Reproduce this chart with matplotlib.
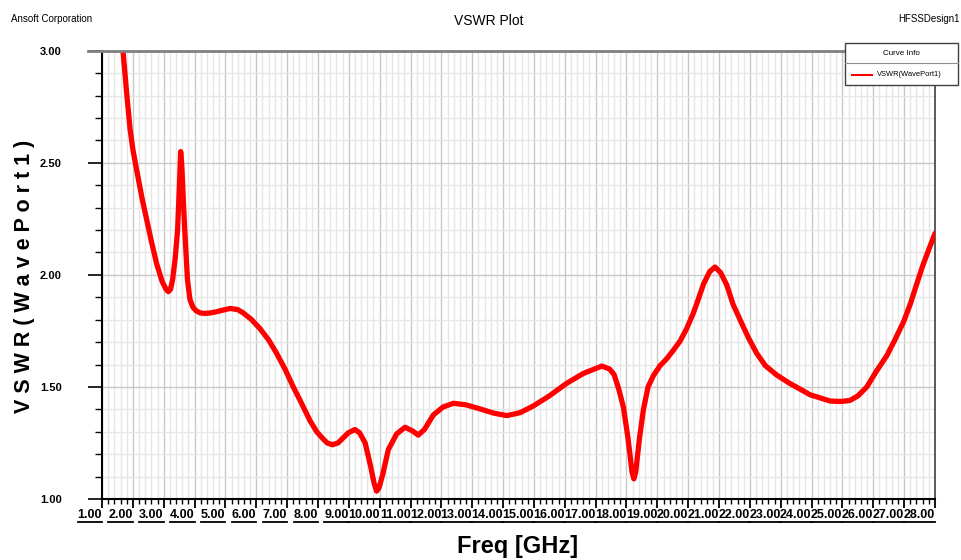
import matplotlib
matplotlib.use('Agg')
import matplotlib.pyplot as plt
import matplotlib.transforms as mtransforms
from matplotlib.lines import Line2D
from matplotlib.patches import Rectangle
import numpy as np

plt.rcParams['font.family'] = ['Liberation Sans', 'DejaVu Sans']

# ---- data ----
freq = [1.62, 1.68, 1.8, 1.91, 2.0, 2.12, 2.3, 2.45, 2.6, 2.77, 2.95, 3.08, 3.15, 3.22,
        3.29, 3.37, 3.45, 3.51, 3.55, 3.59, 3.64, 3.69, 3.77, 3.85, 3.95, 4.05, 4.18,
        4.35, 4.5, 4.7, 4.9, 5.15, 5.4, 5.58, 5.85, 6.12, 6.4, 6.66, 6.93, 7.2, 7.42,
        7.74, 7.96, 8.12, 8.3, 8.47, 8.65, 8.98, 9.2, 9.35, 9.53, 9.7, 9.82, 9.9, 9.98,
        10.1, 10.28, 10.55, 10.82, 11.05, 11.25, 11.45, 11.74, 12.05, 12.39, 12.8, 13.25,
        13.7, 14.12, 14.55, 14.98, 15.5, 16.06, 16.6, 17.2, 17.45, 17.6, 17.75, 17.9,
        18.05, 18.18, 18.24, 18.3, 18.42, 18.55, 18.7, 18.87, 19.09, 19.3, 19.5, 19.74,
        19.95, 20.17, 20.35, 20.5, 20.7, 20.87, 21.05, 21.25, 21.45, 21.68, 21.95, 22.22,
        22.5, 22.87, 23.3, 23.63, 23.95, 24.3, 24.6, 24.95, 25.25, 25.5, 25.79, 26.1,
        26.44, 26.7, 26.98, 27.2, 27.41, 27.6, 27.79, 28.0]
vswr = [3.08, 3.00, 2.81, 2.65, 2.56, 2.47, 2.34, 2.245, 2.15, 2.05, 1.97, 1.935, 1.925, 1.935,
        1.98, 2.07, 2.20, 2.40, 2.55, 2.48, 2.32, 2.18, 1.98, 1.89, 1.855, 1.84, 1.83,
        1.828, 1.83, 1.835, 1.842, 1.85, 1.845, 1.83, 1.80, 1.76, 1.71, 1.65, 1.58, 1.50, 1.44,
        1.35, 1.30, 1.275, 1.25, 1.242, 1.25, 1.295, 1.31, 1.295, 1.25, 1.15, 1.07, 1.035, 1.05,
        1.11, 1.22, 1.29, 1.32, 1.305, 1.285, 1.31, 1.375, 1.41, 1.427, 1.42, 1.402,
        1.383, 1.372, 1.385, 1.415, 1.46, 1.516, 1.56, 1.593, 1.58, 1.555, 1.49, 1.41,
        1.27, 1.12, 1.09, 1.12, 1.27, 1.40, 1.50, 1.55, 1.595, 1.625, 1.66, 1.705,
        1.76, 1.83, 1.90, 1.96, 2.015, 2.035, 2.01, 1.955, 1.87, 1.80, 1.72, 1.65,
        1.595, 1.553, 1.515, 1.49, 1.465, 1.45, 1.437, 1.435, 1.44, 1.46, 1.50, 1.57,
        1.64, 1.71, 1.79, 1.87, 1.96, 2.04, 2.11, 2.185]

x_ticks = np.arange(1, 29)
x_labels = ['%.2f' % v for v in x_ticks]
y_ticks = [1.0, 1.5, 2.0, 2.5, 3.0]
y_labels = ['1.00', '1.50', '2.00', '2.50', '3.00']

W, H = 961, 560
fig = plt.figure(figsize=(W / 100, H / 100), dpi=100)
ax = fig.add_axes([102 / W, 1 - 499 / H, 833 / W, 448.3 / H])

# grid
ax.set_xticks(np.arange(1, 28.01, 0.2), minor=True)
ax.set_yticks(np.arange(1, 3.001, 0.1), minor=True)
ax.set_xticks(x_ticks)
ax.set_yticks(y_ticks)
ax.grid(True, which='minor', color='#e6e6e6', linewidth=1.0)
ax.grid(True, which='major', color='#c8c8c8', linewidth=1.0)
ax.set_axisbelow(True)

ax.plot(freq, vswr, color='#ff0000', linewidth=3.8, solid_capstyle='round', zorder=3)

ax.set_xlim(1, 28)
ax.set_ylim(1, 3)

# spines
for s in ['left', 'bottom']:
    ax.spines[s].set_color('black')
    ax.spines[s].set_linewidth(1.5)
ax.spines['right'].set_color('#404040')
ax.spines['right'].set_linewidth(1.2)
ax.spines['top'].set_color('#808080')
ax.spines['top'].set_linewidth(2.0)
ax.spines['top'].set_zorder(4)

# ticks
ax.tick_params(axis='y', which='major', direction='out', length=10, width=1.2,
               color='black', pad=19)
ax.tick_params(axis='y', which='minor', direction='out', length=5, width=1.0, color='black')
ax.tick_params(axis='x', which='major', direction='out', length=6.5, width=1.3,
               color='black', labelbottom=False)
ax.tick_params(axis='x', which='minor', direction='out', length=3.5, width=1.0, color='black')
ax.set_yticklabels(y_labels, fontsize=8, fontweight='bold')

# top spine runs a little past the left axis, as in the original
fig.add_artist(Line2D([88 / W, 102 / W], [1 - 50.7 / H] * 2, color='#808080',
                      linewidth=2.0))

# x tick labels, right-aligned to their ticks
trans = mtransforms.blended_transform_factory(ax.transData, ax.transAxes)
xtexts = []
for xv, lab in zip(x_ticks, x_labels):
    t = ax.text(xv, -10 / 448.3, lab, transform=trans, ha='right', va='top',
                fontsize=9, fontweight='bold', clip_on=False)
    xtexts.append(t)

# axis titles
fig.text(517.5 / W, 1 - 546 / H, 'Freq [GHz]', fontsize=17, fontweight='bold',
         ha='center', va='center')
fig.text(25 / W, 1 - 276 / H, 'V S W R ( W a v e P o r t 1 )', fontsize=15.5,
         fontweight='bold', rotation=90, ha='center', va='center')

# header texts
fig.text(11 / W, 1 - 19 / H, 'Ansoft Corporation', fontsize=7, va='center', ha='left')
fig.text(489 / W, 1 - 21 / H, 'VSWR Plot', fontsize=10, va='center', ha='center')
fig.text(898 / W, 1 - 19 / H, 'HFSSDesign1', fontsize=7, va='center', ha='left')

# "Curve Info" legend box
lx0, lx1, ly0, ly1, lsep = 845, 958, 42.5, 85.3, 63.3
fig.add_artist(Rectangle((lx0 / W, 1 - ly1 / H), (lx1 - lx0) / W, (ly1 - ly0) / H,
                         facecolor='white', edgecolor='#404040', linewidth=1.0,
                         transform=fig.transFigure, zorder=10))
fig.add_artist(Line2D([lx0 / W, lx1 / W], [1 - lsep / H] * 2, color='#909090',
                      linewidth=0.8, zorder=11))
fig.text((lx0 + lx1) / 2 / W, 1 - 53.5 / H, 'Curve Info', fontsize=5.8, ha='center',
         va='center', zorder=12)
fig.add_artist(Line2D([852 / W, 872 / W], [1 - 74.5 / H] * 2, color='#ff0000',
                      linewidth=1.5, zorder=12))
fig.text(877 / W, 1 - 74.5 / H, 'VSWR(WavePort1)', fontsize=5.4, ha='left',
         va='center', zorder=12)

# underline each x tick label
fig.canvas.draw()
renderer = fig.canvas.get_renderer()
inv = fig.transFigure.inverted()
for t in xtexts:
    bb = t.get_window_extent(renderer)
    (fx0, fy0), (fx1, _) = inv.transform([(bb.x0, bb.y0 - 1.0), (bb.x1, bb.y0)])
    fig.add_artist(Line2D([fx0, fx1], [fy0, fy0], color='black', linewidth=1.3))

fig.savefig('out.png', dpi=100)
